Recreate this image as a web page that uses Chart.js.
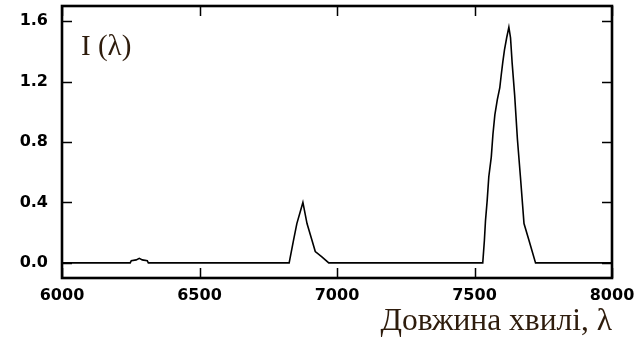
<!DOCTYPE html>
<html>
<head>
<meta charset="utf-8">
<script src="https://cdn.jsdelivr.net/npm/chart.js@4"></script>
<style>
  html, body { margin: 0; padding: 0; background: #fff; }
  #wrap { width: 644px; height: 341px; }
</style>
</head>
<body>
<div id="wrap"><canvas id="spectrum"></canvas></div>
<script>
// wavelength (Angstrom) and intensity
const wavelengths = [
    6000, 6248, 6252, 6270, 6281, 6292, 6310, 6314,
    6826, 6842, 6854, 6876, 6891, 6909, 6921, 6945, 6970,
    7530, 7536, 7540, 7546, 7552, 7561, 7567, 7574, 7583, 7592, 7597, 7603, 7609, 7617, 7625,
    7631, 7637, 7646, 7656, 7667, 7675, 7680, 7698, 7722, 8000
];
const intensity = [
    0, 0, 0.015, 0.02, 0.03, 0.02, 0.015, 0,
    0, 0.15, 0.26, 0.40, 0.26, 0.15, 0.075, 0.04, 0,
    0, 0.15, 0.28, 0.41, 0.57, 0.70, 0.85, 0.98, 1.08, 1.16, 1.24, 1.33, 1.41, 1.49, 1.56,
    1.49, 1.32, 1.11, 0.82, 0.57, 0.38, 0.26, 0.15, 0, 0
];
const xTicks = [6000, 6500, 7000, 7500, 8000];
const yTicks = [0.0, 0.4, 0.8, 1.2, 1.6];

const xTitle = 'Довжина хвилі, λ';
const yTitle = 'I (λ)';

const labelFont = { family: 'DejaVu Sans', size: 16, weight: 'bold' };
const titleColor = '#2e1c0c';

// frame, inward ticks and the I(λ) label
const framePlugin = {
    id: 'frame',
    afterDraw(chart) {
        const { ctx, chartArea: a, scales } = chart;
        const tl = 10;
        ctx.save();
        ctx.strokeStyle = '#000';
        ctx.lineWidth = 1.5;
        ctx.beginPath();
        xTicks.forEach(v => {
            const px = Math.round(scales.x.getPixelForValue(v)) + 0.5;
            ctx.moveTo(px, a.bottom); ctx.lineTo(px, a.bottom - tl);
            ctx.moveTo(px, a.top); ctx.lineTo(px, a.top + tl);
        });
        yTicks.forEach(v => {
            const py = Math.round(scales.y.getPixelForValue(v)) + 0.5;
            ctx.moveTo(a.left, py); ctx.lineTo(a.left + tl, py);
            ctx.moveTo(a.right, py); ctx.lineTo(a.right - tl, py);
        });
        ctx.stroke();
        ctx.lineWidth = 2.6;
        ctx.strokeRect(a.left, a.top, a.right - a.left, a.bottom - a.top);

        ctx.fillStyle = titleColor;
        ctx.font = '29px "Liberation Serif"';
        ctx.textBaseline = 'alphabetic';
        ctx.textAlign = 'left';
        ctx.fillText(yTitle, a.left + 19, a.top + 49);
        ctx.restore();
    }
};

const chart = new Chart(document.getElementById('spectrum'), {
    type: 'line',
    data: {
        datasets: [{
            data: wavelengths.map((w, i) => ({ x: w, y: intensity[i] })),
            borderColor: '#000',
            borderWidth: 1.6,
            pointRadius: 0,
            tension: 0,
            fill: false
        }]
    },
    options: {
        responsive: true,
        maintainAspectRatio: false,
        animation: false,
        layout: { padding: { left: 0, top: 6, right: 32, bottom: 0 } },
        plugins: {
            legend: { display: false },
            tooltip: { enabled: false }
        },
        scales: {
            x: {
                type: 'linear',
                min: 6000,
                max: 8000,
                afterBuildTicks: s => { s.ticks = xTicks.map(v => ({ value: v })); },
                afterFit: s => { s.height = 63; s.paddingLeft = 0; s.paddingRight = 0; },
                grid: { display: false, drawTicks: false },
                border: { display: false },
                ticks: {
                    color: '#000',
                    font: labelFont,
                    padding: 8,
                    maxRotation: 0,
                    autoSkip: false,
                    callback: v => String(v)
                },
                title: {
                    display: true,
                    text: xTitle,
                    align: 'end',
                    color: titleColor,
                    font: { family: 'Liberation Serif', size: 31.5 },
                    padding: { top: 0, bottom: 0 }
                }
            },
            y: {
                min: -0.1,
                max: 1.7,
                afterBuildTicks: s => { s.ticks = yTicks.map(v => ({ value: v })); },
                afterFit: s => { s.width = 62; s.paddingTop = 0; s.paddingBottom = 0; },
                grid: { display: false, drawTicks: false },
                border: { display: false },
                ticks: {
                    color: '#000',
                    font: labelFont,
                    padding: 14,
                    callback: v => Number(v).toFixed(1)
                }
            }
        }
    },
    plugins: [framePlugin]
});
</script>
</body>
</html>
